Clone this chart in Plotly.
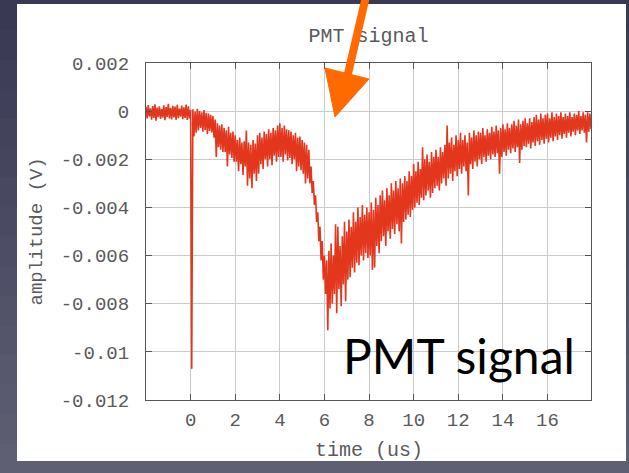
import numpy as np
import plotly.graph_objects as go

# PMT waveform, min/max envelope per 0.1 us bin, amplitude in mV
t_start_us = -2.0
bin_us = 0.1

hi_mV = [
    0.18, 0.25, 0.12, 0.21, 0.28, 0.15, 0.20, 0.10, 0.24, 0.17,
    0.30, 0.14, 0.22, 0.19, 0.26, 0.11, 0.23, 0.16, 0.27, 0.20,
    0.05, 0.08, -0.02, 0.10, 0.00, -0.05, 0.05, -0.08, -0.10, -0.15,
    -0.20, -0.35, -0.50, -0.60, -0.55, -0.70, -0.80, -0.65, -0.90, -0.85,
    -1.00, -1.20, -1.10, -1.30, -1.25, -0.80, -1.30, -1.40, -1.20, -1.35,
    -1.00, -0.90, -1.10, -0.85, -0.95, -0.75, -0.90, -0.70, -0.80, -0.60,
    -0.50, -0.70, -0.60, -0.75, -0.80, -0.85, -1.00, -0.90, -1.10, -1.05,
    -1.20, -1.30, -1.40, -1.60, -2.30, -2.90, -3.50, -4.20, -4.80, -5.40,
    -6.00, -6.20, -5.80, -5.50, -6.00, -4.70, -4.80, -5.60, -5.20, -4.60,
    -5.00, -4.50, -4.80, -4.20, -4.60, -4.00, -4.40, -3.90, -4.30, -4.00,
    -4.20, -3.80, -4.10, -3.60, -3.90, -3.50, -3.30, -3.70, -3.20, -3.50,
    -3.00, -3.30, -2.90, -3.20, -2.80, -3.00, -2.70, -2.90, -2.50, -2.70,
    -2.20, -2.50, -2.10, -2.40, -1.50, -2.00, -1.80, -2.10, -1.70, -1.90,
    -1.60, -1.90, -1.50, -1.70, -1.40, -0.60, -1.30, -1.10, -1.40, -1.00,
    -1.20, -0.90, -1.20, -1.00, -1.30, -0.90, -1.10, -0.80, -1.00, -0.85,
    -0.90, -0.70, -1.00, -0.75, -0.90, -0.65, -0.85, -0.60, -0.80, -0.70,
    -0.55, -0.75, -0.50, -0.70, -0.55, -0.40, -0.60, -0.35, -0.55, -0.40,
    -0.30, -0.50, -0.30, -0.45, -0.25, -0.15, -0.35, -0.10, -0.30, -0.15,
    -0.10, -0.30, -0.05, -0.25, -0.10, -0.20, -0.05, -0.25, -0.10, -0.20,
    -0.05, -0.25, -0.10, -0.15, 0.00, -0.20, -0.05, -0.15, -0.05, -0.10,
]

lo_mV = [
    -0.30, -0.22, -0.35, -0.28, -0.40, -0.25, -0.32, -0.27, -0.38, -0.24,
    -0.30, -0.34, -0.26, -0.36, -0.29, -0.23, -0.33, -0.28, -0.37, -0.30,
    -10.70, -1.05, -0.90, -0.80, -0.70, -0.85, -0.78, -0.95, -0.82, -0.88,
    -1.10, -1.90, -1.50, -1.60, -1.70, -1.70, -2.30, -1.80, -1.95, -2.10,
    -2.10, -2.50, -2.20, -2.65, -2.30, -3.10, -2.80, -3.20, -2.60, -2.90,
    -2.60, -2.20, -2.40, -2.00, -2.30, -2.00, -2.25, -1.85, -2.10, -1.90,
    -1.90, -2.10, -1.80, -2.05, -1.95, -2.20, -2.00, -2.50, -2.30, -2.45,
    -2.60, -3.00, -2.80, -3.00, -3.40, -3.90, -4.60, -5.40, -6.20, -7.00,
    -7.60, -9.10, -8.20, -8.00, -7.60, -8.40, -7.40, -8.10, -7.20, -7.90,
    -7.00, -6.90, -6.50, -6.70, -6.30, -6.40, -6.00, -6.20, -5.90, -6.10,
    -6.00, -6.60, -6.50, -5.60, -5.90, -5.40, -5.20, -5.60, -5.00, -5.30,
    -4.90, -5.10, -4.70, -5.00, -5.50, -4.60, -4.50, -4.30, -4.40, -4.10,
    -4.00, -3.80, -3.90, -3.60, -3.70, -3.50, -3.30, -3.60, -3.40, -3.20,
    -3.10, -3.30, -3.00, -2.80, -3.10, -2.80, -2.60, -2.90, -2.50, -2.70,
    -2.40, -2.60, -2.30, -2.50, -3.50, -2.20, -2.40, -2.10, -2.30, -2.00,
    -2.20, -1.90, -2.10, -1.85, -2.00, -1.80, -1.90, -1.75, -2.60, -1.90,
    -1.70, -1.85, -1.60, -1.75, -1.55, -1.70, -1.50, -2.15, -1.60, -1.45,
    -1.50, -1.35, -1.55, -1.30, -1.45, -1.25, -1.40, -1.20, -1.35, -1.15,
    -1.30, -1.10, -1.25, -1.05, -1.20, -1.00, -1.15, -0.95, -1.10, -0.90,
    -1.05, -0.85, -1.00, -0.80, -0.95, -0.80, -0.90, -1.30, -0.85, -0.75,
]

x_ticks = [0, 2, 4, 6, 8, 10, 12, 14, 16]
y_ticks = [-0.012, -0.010, -0.008, -0.006, -0.004, -0.002, 0.0, 0.002]
y_ticktext = ["-0.012", "-0.01", "-0.008", "-0.006", "-0.004", "-0.002", "0", "0.002"]

# each bin is drawn as a max -> min stroke, like a peak-detect scope trace
times = t_start_us + bin_us * np.arange(len(hi_mV))
xs, ys = [], []
for t, h, l in zip(times, hi_mV, lo_mV):
    xs += [t, t + bin_us / 2]
    ys += [h / 1000.0, l / 1000.0]

W, H = 629, 473
ML, MR, MT, MB = 146, 38, 63, 73
PW, PH = W - ML - MR, H - MT - MB


def px(x):
    return (x - ML) / PW


def py(y):
    return (H - MB - y) / PH


mono = "Liberation Mono"
grey = "#5a5a5a"
tick_size = 19
label_size = 20

fig = go.Figure()
fig.add_trace(go.Scatter(
    x=xs, y=ys, mode="lines",
    line=dict(color="#e2361d", width=1.6),
    hoverinfo="skip", showlegend=False,
))

shapes = []
# slide background: vertical gradient in bands
n_bands = 16
c_top = np.array([57, 57, 84])
c_bot = np.array([95, 95, 116])
for i in range(n_bands):
    c = c_top + (c_bot - c_top) * i / (n_bands - 1)
    shapes.append(dict(
        type="rect", xref="paper", yref="paper", layer="below",
        x0=px(0), x1=px(W), y0=py(H * i / n_bands), y1=py(H * (i + 1) / n_bands + 1),
        fillcolor="rgb(%d,%d,%d)" % tuple(c), line=dict(width=0),
    ))
# white chart panel
shapes.append(dict(
    type="rect", xref="paper", yref="paper", layer="below",
    x0=px(17), x1=px(626), y0=py(461), y1=py(4),
    fillcolor="white", line=dict(width=0),
))
# chart title, drawn as a shape label so the callout arrow sits on top of it
shapes.append(dict(
    type="rect", xref="paper", yref="paper", layer="above",
    x0=px(290), x1=px(447), y0=py(46), y1=py(20),
    line=dict(width=0), fillcolor="rgba(0,0,0,0)",
    label=dict(text="PMT signal", textposition="middle center",
               font=dict(family=mono, size=label_size, color=grey)),
))
# orange callout arrow
orange = "#ff6a00"
shapes.append(dict(
    type="line", xref="paper", yref="paper", layer="above",
    x0=px(367), y0=py(-8), x1=px(347), y1=py(78),
    line=dict(color=orange, width=8),
))
shapes.append(dict(
    type="path", xref="paper", yref="paper", layer="above",
    path="M %f,%f L %f,%f L %f,%f Z" % (
        px(335), py(117), px(325), py(68), px(369), py(79)),
    fillcolor=orange, line=dict(color=orange, width=1),
))

axis_common = dict(
    ticks="inside", ticklen=6, tickcolor="#555555", tickwidth=1,
    showgrid=True, gridcolor="#cacaca", gridwidth=1.2,
    showline=True, linecolor="#555555", linewidth=1.2, mirror="ticks",
    zeroline=False, tickfont=dict(family=mono, size=tick_size, color=grey),
    fixedrange=True,
)

fig.update_layout(
    width=W, height=H, autosize=False,
    margin=dict(l=ML, r=MR, t=MT, b=MB, pad=0),
    paper_bgcolor="rgb(70,70,95)", plot_bgcolor="white",
    xaxis=dict(range=[-2.0, 17.95], tickvals=x_ticks, ticklabelstandoff=2, **axis_common),
    yaxis=dict(range=[-0.012, 0.002], tickvals=y_ticks, ticktext=y_ticktext,
               ticklabelstandoff=12, **axis_common),
    shapes=shapes,
    annotations=[
        dict(text="time (us)", xref="paper", yref="paper", x=0.5, y=py(450),
             xanchor="center", yanchor="middle", showarrow=False,
             font=dict(family=mono, size=label_size, color=grey)),
        dict(text="amplitude (V)", xref="paper", yref="paper", x=px(36), y=0.5,
             xanchor="center", yanchor="middle", textangle=-90, showarrow=False,
             font=dict(family=mono, size=19, color=grey)),
        dict(text="PMT signal", xref="paper", yref="paper", x=px(459), y=py(355),
             xanchor="center", yanchor="middle", showarrow=False,
             font=dict(family="Lato", size=48, color="black")),
    ],
)

fig.write_html("out.html")
